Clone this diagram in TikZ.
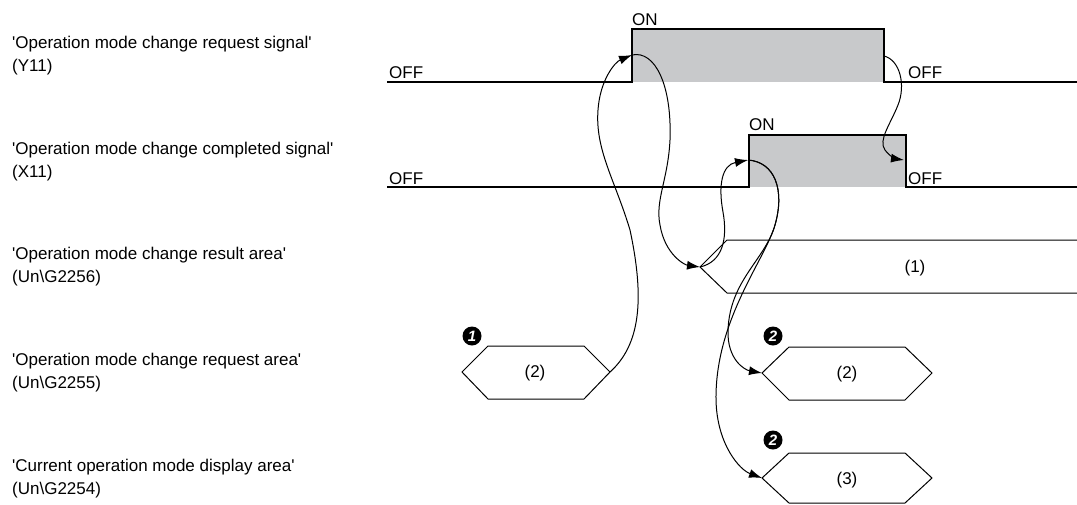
\documentclass[tikz,border=0pt]{standalone}
\usepackage{fontspec}
\setmainfont{Liberation Sans}[Ligatures=TeXOff]
\usetikzlibrary{arrows.meta}
\definecolor{pulsegray}{RGB}{200,201,203}
\begin{document}
\begin{tikzpicture}[x=1pt,y=-1pt,
  lbl/.style={anchor=west,align=left,inner sep=0pt,font=\fontsize{17}{23}\selectfont},
  sig/.style={line width=1.2pt},
  txt/.style={inner sep=0pt,font=\fontsize{17}{20}\selectfont},
  hexa/.style={line width=1pt},
  conn/.style={line width=1pt,-{Latex[length=13pt,width=9pt]}},
  stepmark/.style={circle,fill=black,text=white,inner sep=0pt,minimum size=19pt,font=\fontsize{15}{15}\selectfont\bfseries\itshape}
]
\useasboundingbox (0,0) rectangle (1077,504);

% left labels
\node[lbl] (l1) at (12,56) {'Operation mode change request signal'\\(Y11)};
\node[lbl] (l2) at (12,162) {'Operation mode change completed signal'\\(X11)};
\node[lbl] (l3) at (12,267) {'Operation mode change result area'\\(Un\textbackslash G2256)};
\node[lbl] (l4) at (12,373) {'Operation mode change request area'\\(Un\textbackslash G2255)};
\node[lbl] (l5) at (12,479) {'Current operation mode display area'\\(Un\textbackslash G2254)};

% Y11
\fill[pulsegray] (632,29) rectangle (884,82);
\draw[sig] (387,82) -- (632,82) -- (632,29) -- (884,29) -- (884,82) -- (1077,82);
\node[txt,anchor=base west] (on1) at (632,25) {ON};
\node[txt,anchor=base west] (off1) at (389,78) {OFF};
\node[txt,anchor=base west] (off1r) at (908,78) {OFF};

% X11
\fill[pulsegray] (749,135) rectangle (906,187);
\draw[sig] (387,187) -- (749,187) -- (749,135) -- (906,135) -- (906,187) -- (1077,187);
\node[txt,anchor=base west] (on2) at (749,130) {ON};
\node[txt,anchor=base west] (off2) at (389,184) {OFF};
\node[txt,anchor=base west] (off2r) at (908,184) {OFF};

% result area
\coordinate (resL) at (700,267);
\draw[hexa] (1077,240) -- (727,240) -- (resL) -- (727,293) -- (1077,293);
\node[txt] (r1) at (915,268) {(1)};

% request area hexagon 1
\coordinate (h1L) at (462,372);
\coordinate (h1R) at (610,372);
\draw[hexa] (h1L) -- (488,346) -- (584,346) -- (h1R) -- (584,399) -- (488,399) -- cycle;
\node[txt] (h1t) at (535,373) {(2)};
\node[stepmark] (m1) at (472,336) {1};

% request area hexagon 2
\coordinate (h2L) at (762,373);
\draw[hexa] (h2L) -- (789,347) -- (905,347) -- (932,373) -- (905,400) -- (789,400) -- cycle;
\node[txt] (h2t) at (847,374) {(2)};
\node[stepmark] (m2) at (773,336) {2};

% display area hexagon 3
\coordinate (h3L) at (762,478);
\draw[hexa] (h3L) -- (789,453) -- (905,453) -- (932,478) -- (905,503) -- (789,503) -- cycle;
\node[txt] (h3t) at (847,480) {(3)};
\node[stepmark] (m3) at (773,440) {2};

% connector anchors
\coordinate (y11r) at (632,55);
\coordinate (x11r) at (748,160);
\coordinate (y11f) at (884,56);
\coordinate (x11f) at (904,160);

% curve A
\draw[conn] (h1R) .. controls (640,345) and (645,300) .. (630,230)
  .. controls (615,180) and (595,150) .. (598,110)
  .. controls (600,80) and (615,62) .. (y11r);
% curve B
\draw[conn] (y11r) .. controls (655,50) and (672,85) .. (670,140)
  .. controls (668,180) and (655,200) .. (660,225)
  .. controls (665,255) and (685,265) .. (resL);
% curve C
\draw[conn] (resL) .. controls (722,262) and (728,240) .. (723,212)
  .. controls (718,185) and (722,165) .. (x11r);
% curve D1
\draw[conn] (x11r) .. controls (775,162) and (785,190) .. (775,225)
  .. controls (765,260) and (730,280) .. (728,330)
  .. controls (727,360) and (745,370) .. (h2L);
% curve D2
\draw[conn] (x11r) .. controls (775,162) and (785,190) .. (775,225)
  .. controls (765,260) and (715,320) .. (716,400)
  .. controls (717,445) and (740,470) .. (h3L);
% curve E
\draw[conn] (y11f) .. controls (900,60) and (906,85) .. (898,105)
  .. controls (890,125) and (878,140) .. (885,150)
  .. controls (890,157) and (897,159) .. (x11f);
\end{tikzpicture}
\end{document}
